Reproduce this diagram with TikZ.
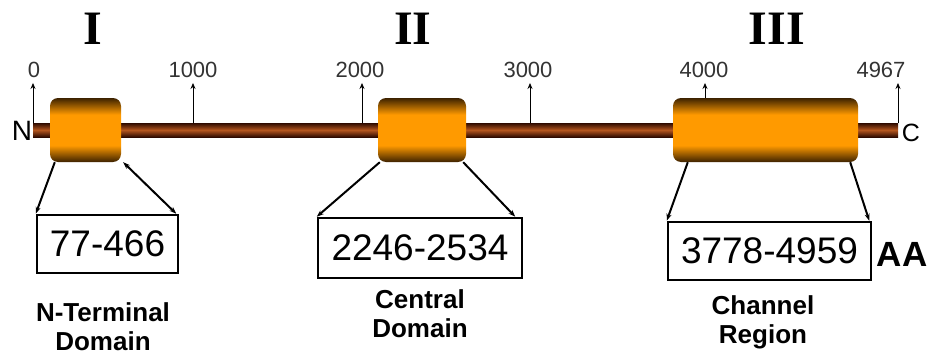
\documentclass[tikz,border=0pt]{standalone}
\usepackage{fontspec}
\setmainfont{Liberation Sans}
\newfontfamily\numeralfont{Liberation Serif}
\usetikzlibrary{arrows.meta}

\definecolor{domdark}{HTML}{3D2200}
\definecolor{domorange}{HTML}{FF9A00}
\definecolor{bardark}{HTML}{2E0A00}
\definecolor{barmid}{HTML}{B4561E}

\pgfdeclareverticalshading{domainshade}{100bp}{color(0bp)=(domdark); color(25bp)=(domdark); color(38bp)=(domorange); color(62bp)=(domorange); color(75bp)=(domdark); color(100bp)=(domdark)}
\pgfdeclareverticalshading{barshade}{100bp}{color(0bp)=(bardark); color(25bp)=(bardark); color(50bp)=(barmid); color(75bp)=(bardark); color(100bp)=(bardark)}

\tikzset{
  domainbox/.style={rounded corners=8pt, shade, shading=domainshade, minimum height=64pt, inner sep=0pt},
  rangebox/.style={draw, line width=2.5pt, minimum height=58pt, inner sep=0pt, font=\fontsize{37}{40}\selectfont},
  ticklabel/.style={inner sep=0pt, text=black!80, font=\fontsize{22}{24}\selectfont},
  tickarrow/.style={-{Stealth[length=6pt,width=5pt]}, line width=0.8pt, shorten >=5pt},
  pointer/.style={>={Stealth[length=7pt,width=5pt]}, line width=2pt},
  captiontext/.style={align=center, anchor=base, font=\bfseries\fontsize{26}{29}\selectfont},
  numeral/.style={inner sep=0pt, font=\numeralfont\bfseries\fontsize{48}{50}\selectfont}
}

\begin{document}
\begin{tikzpicture}[x=1pt, y=-1pt]
\useasboundingbox (0,0) rectangle (930,356);

% Protein backbone
\shade[shading=barshade] (33,123) rectangle (898,137);
\node[inner sep=0pt, font=\fontsize{28}{30}\selectfont] (nterm) at (22,131) {N};
\node[inner sep=0pt, font=\fontsize{25}{27}\selectfont] (cterm) at (911,133) {C};

% Domains
\node[domainbox, minimum width=71pt] (d1) at (85.5,130) {};
\node[domainbox, minimum width=88pt] (d2) at (422,130) {};
\node[domainbox, minimum width=185pt] (d3) at (765.5,130) {};

% Domain numbers
\node[numeral] (n1) at (93,29) {I};
\node[numeral] (n2) at (413,29) {II};
\node[numeral] (n3) at (777,29) {III};

% Residue scale
\foreach \val/\tx/\ty/\lx in {0/33/123/34, 1000/193/123/193, 2000/362/123/360, 3000/530/123/528, 4000/705/98/704, 4967/898/123/881} {
  \coordinate (t\val) at (\tx,\ty);
  \node[ticklabel] (l\val) at (\lx,70) {\val};
  \draw[tickarrow] (t\val) -- (t\val |- l\val.south);
}

% Residue ranges
\node[rangebox, minimum width=141pt] (f1) at (107.5,244) {77-466};
\node[rangebox, minimum width=204pt, minimum height=60pt] (f2) at (420,248) {2246-2534};
\node[rangebox, minimum width=203pt] (f3) at (769.5,251) {3778-4959};
\node[inner sep=0pt, font=\bfseries\fontsize{35}{37}\selectfont] (aa) at (902,254) {AA};

% Pointers from domains to ranges
\draw[pointer, ->] ([xshift=5pt]d1.south west) -- (f1.north west);
\draw[pointer, <->] ([xshift=-3pt]f1.north east) -- ([xshift=2pt]d1.south east);
\draw[pointer, ->] ([xshift=2pt]d2.south west) -- (f2.north west);
\draw[pointer, ->] ([xshift=-3pt]d2.south east) -- ([xshift=-8pt]f2.north east);
\draw[pointer, ->] ([xshift=15pt]d3.south west) -- (f3.north west);
\draw[pointer, ->] ([xshift=-8pt]d3.south east) -- ([xshift=-3pt]f3.north east);

% Captions
\node[captiontext] (c1) at (103,350) {N-Terminal\\Domain};
\node[captiontext] (c2) at (420,337) {Central\\Domain};
\node[captiontext] (c3) at (763,343) {Channel\\Region};

\end{tikzpicture}
\end{document}
